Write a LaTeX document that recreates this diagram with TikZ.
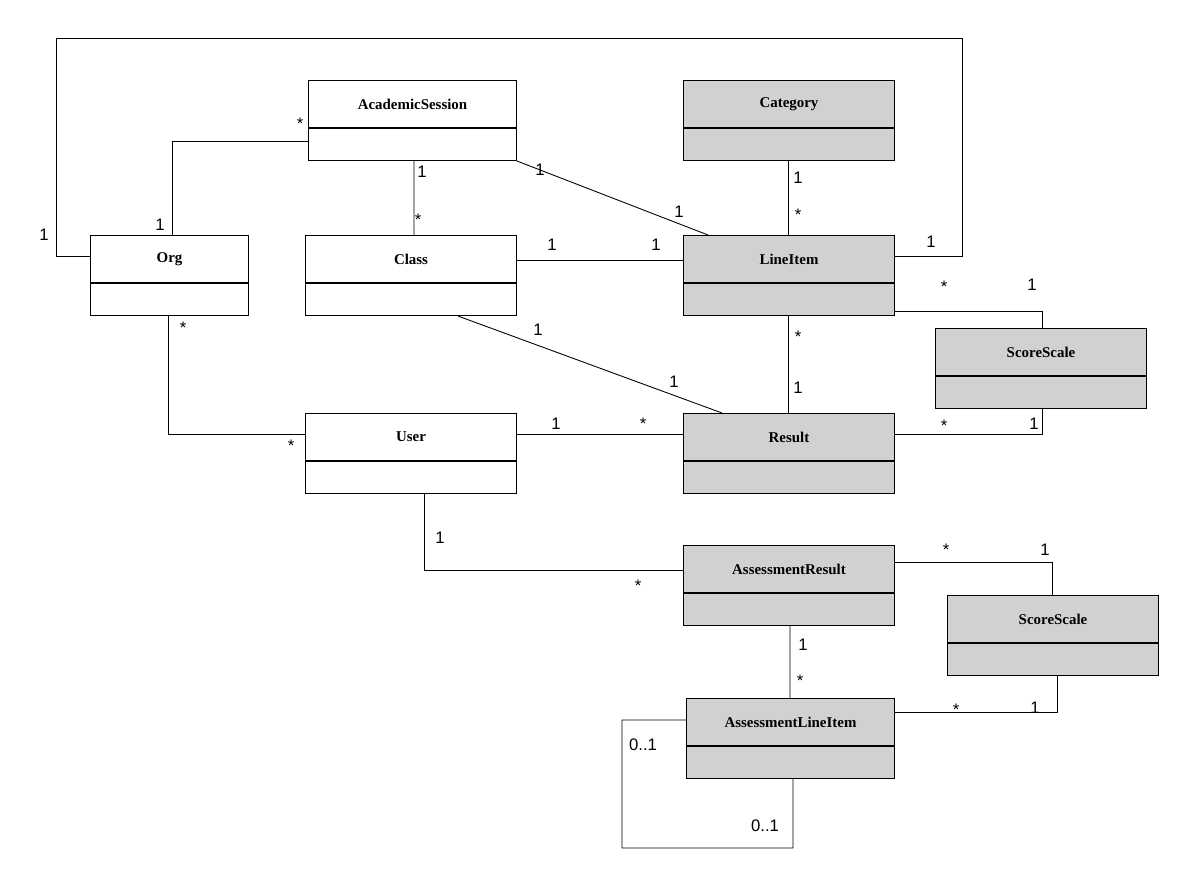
\documentclass[tikz,border=0pt]{standalone}
\usepackage{fontspec}
\setmainfont{Liberation Serif}
\newfontfamily\lblfont{Liberation Sans}
\usetikzlibrary{calc,positioning}
\definecolor{clsgray}{rgb}{0.82,0.82,0.82}
\tikzset{
  cls/.style={draw,line width=0.6pt,rectangle,minimum height=1.6cm,inner sep=0pt},
  ttl/.style={font=\fontsize{8.5}{10}\selectfont\bfseries},
  lbl/.style={font=\lblfont\fontsize{9.5}{11}\selectfont,inner sep=0pt},
  assoc/.style={line width=0.5pt}
}
% fill, name, position, width, title
\newcommand{\umlclass}[5]{%
  \node[cls,fill=#1,minimum width=#4,anchor=north west] (#2) at (#3) {};
  \draw[line width=0.6pt] ([yshift=-0.96cm]#2.north west) -- ([yshift=-0.96cm]#2.north east);
  \node[ttl] (#2-t) at ([yshift=-0.48cm]#2.north) {#5};}
\begin{document}
\begin{tikzpicture}[x=0.02cm,y=-0.02cm]
  \useasboundingbox (0,0) rectangle (1199,885);
  % classes
  \umlclass{white}{acs}{308,80}{4.16cm}{AcademicSession}
  \umlclass{clsgray}{cat}{683,80}{4.22cm}{Category}
  \umlclass{white}{org}{90,235}{3.16cm}{Org}
  \umlclass{white}{cla}{305,235}{4.22cm}{Class}
  \umlclass{clsgray}{li}{683,235}{4.22cm}{LineItem}
  \umlclass{clsgray}{ssa}{935,328}{4.22cm}{ScoreScale}
  \umlclass{white}{usr}{305,413}{4.22cm}{User}
  \umlclass{clsgray}{res}{683,413}{4.22cm}{Result}
  \umlclass{clsgray}{ar}{683,545}{4.22cm}{AssessmentResult}
  \umlclass{clsgray}{ssb}{947,595}{4.22cm}{ScoreScale}
  \umlclass{clsgray}{ali}{686,698}{4.16cm}{AssessmentLineItem}
  % associations
  \coordinate (loopL) at (56,38);
  \coordinate (loopR) at (962,38);
  \draw[assoc] ([yshift=-0.42cm]org.north west) -| (loopL) -- (loopR) |- ([yshift=-0.42cm]li.north east);
  \draw[assoc] ([yshift=-1.22cm]acs.north west) -| ([xshift=1.64cm]org.north west);
  \draw[assoc] ([xshift=2.12cm]acs.south west) -- ([xshift=2.18cm]cla.north west);
  \draw[assoc] (acs.south east) -- ([xshift=0.5cm]li.north west);
  \draw[assoc] ([xshift=2.1cm]cat.south west) -- ([xshift=2.1cm]li.north west);
  \draw[assoc] ([yshift=-0.5cm]cla.north east) -- ([yshift=-0.5cm]li.north west);
  \draw[assoc] ([yshift=0.1cm]li.south east) -| ([xshift=2.14cm]ssa.north west);
  \draw[assoc] ([xshift=3.06cm]cla.south west) -- ([xshift=0.78cm]res.north west);
  \draw[assoc] ([xshift=2.1cm]li.south west) -- ([xshift=2.1cm]res.north west);
  \draw[assoc] ([xshift=1.56cm]org.south west) |- ([yshift=-0.42cm]usr.north west);
  \draw[assoc] ([yshift=-0.42cm]usr.north east) -- ([yshift=-0.42cm]res.north west);
  \draw[assoc] ([yshift=-0.42cm]res.north east) -| ([xshift=2.14cm]ssa.south west);
  \draw[assoc] ([xshift=2.38cm]usr.south west) |- ([yshift=-0.5cm]ar.north west);
  \draw[assoc] ([yshift=-0.34cm]ar.north east) -| ([xshift=2.1cm]ssb.north west);
  \draw[assoc] ([xshift=2.14cm]ar.south west) -- ([xshift=2.08cm]ali.north west);
  \draw[assoc] ([yshift=-0.28cm]ali.north east) -| ([xshift=2.2cm]ssb.south west);
  \coordinate (selfA) at (622,720);
  \coordinate (selfB) at (793,848);
  \draw[assoc] ([yshift=-0.44cm]ali.north west) -- (selfA) |- (selfB) -- ([xshift=2.14cm]ali.south west);
  % multiplicities
  \node[lbl] at (44,235) {1};
  \node[lbl] at (931,242) {1};
  \node[lbl] at (300,124) {*};
  \node[lbl] at (160,225) {1};
  \node[lbl] at (422,172) {1};
  \node[lbl] at (418,220) {*};
  \node[lbl] at (540,170) {1};
  \node[lbl] at (679,212) {1};
  \node[lbl] at (798,178) {1};
  \node[lbl] at (798,215) {*};
  \node[lbl] at (552,245) {1};
  \node[lbl] at (656,245) {1};
  \node[lbl] at (944,287) {*};
  \node[lbl] at (1032,285) {1};
  \node[lbl] at (538,330) {1};
  \node[lbl] at (674,382) {1};
  \node[lbl] at (798,337) {*};
  \node[lbl] at (798,388) {1};
  \node[lbl] at (183,328) {*};
  \node[lbl] at (291,446) {*};
  \node[lbl] at (556,424) {1};
  \node[lbl] at (643,424) {*};
  \node[lbl] at (944,426) {*};
  \node[lbl] at (1034,424) {1};
  \node[lbl] at (440,538) {1};
  \node[lbl] at (638,586) {*};
  \node[lbl] at (946,550) {*};
  \node[lbl] at (1045,550) {1};
  \node[lbl] at (803,645) {1};
  \node[lbl] at (800,681) {*};
  \node[lbl] at (956,710) {*};
  \node[lbl] at (1035,708) {1};
  \node[lbl] at (643,745) {0..1};
  \node[lbl] at (765,826) {0..1};
\end{tikzpicture}
\end{document}
